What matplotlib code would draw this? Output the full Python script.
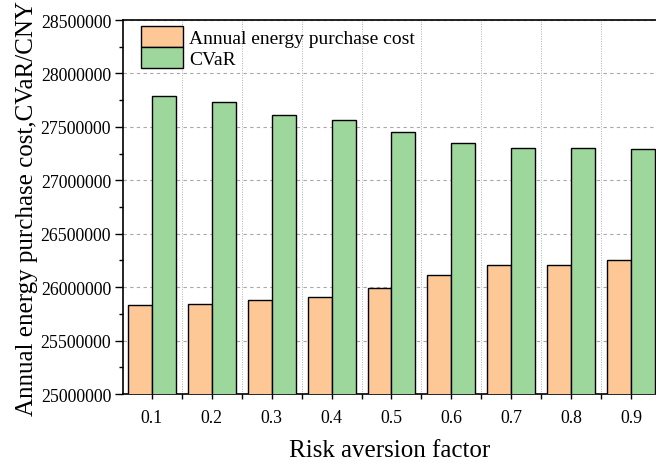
import numpy as np
import matplotlib.pyplot as plt
from matplotlib.ticker import MultipleLocator

############################
risk_factors = [0.1, 0.2, 0.3, 0.4, 0.5, 0.6, 0.7, 0.8, 0.9]
tick_labels = ['0.1', '0.2', '0.3', '0.4', '0.5', '0.6', '0.7', '0.8', '0.9']
purchase_cost = [25830000, 25840000, 25880000, 25910000, 25995000, 26110000, 26205000, 26205000, 26250000]
cvar = [27790000, 27730000, 27610000, 27560000, 27450000, 27350000, 27300000, 27300000, 27290000]
############################

plt.rcParams['font.family'] = ['Liberation Serif', 'DejaVu Serif']

fig = plt.figure(figsize=(6.56, 4.64), dpi=100)
ax = fig.add_axes([0.1875, 0.1487, 0.8125, 0.806])

x = np.array(risk_factors)
w = 0.04
ax.bar(x - w / 2, purchase_cost, width=w, color='#fdc896', edgecolor='black', linewidth=1.0,
       label='Annual energy purchase cost', zorder=3)
ax.bar(x + w / 2, cvar, width=w, color='#9dd79b', edgecolor='black', linewidth=1.0,
       label='CVaR', zorder=3)

ax.set_ylim(25000000, 28500000)
ax.set_xlim(0.0517, 0.9417)
ax.set_xticks(x)
ax.set_xticklabels(tick_labels)
ax.set_xticks(x[:-1] + 0.05, minor=True)
ax.yaxis.set_major_locator(MultipleLocator(500000))
ax.yaxis.set_minor_locator(MultipleLocator(250000))
ax.ticklabel_format(axis='y', style='plain', useOffset=False)

ax.tick_params(axis='both', which='major', labelsize=12.8, direction='out', width=1.0)
ax.tick_params(axis='y', which='major', length=5.5, pad=3)
ax.tick_params(axis='y', which='minor', length=3, width=1.0)
ax.tick_params(axis='x', which='major', length=3.5, pad=7)
ax.tick_params(axis='x', which='minor', length=3.5, width=1.0)

ax.grid(axis='y', which='major', linestyle=(0, (3, 3)), color='#a8a8a8', linewidth=0.8, zorder=0)
ax.grid(axis='x', which='minor', linestyle=(0, (1, 1.5)), color='#b0b0b0', linewidth=0.7, zorder=0)

for s in ['left', 'top', 'bottom']:
    ax.spines[s].set_linewidth(1.2)
ax.spines['right'].set_visible(False)

ax.set_xlabel('Risk aversion factor', fontsize=18, labelpad=10)
ax.set_ylabel('Annual energy purchase cost,CVaR/CNY', fontsize=18, labelpad=2)

ax.legend(loc='upper left', frameon=False, fontsize=14, handlelength=2.2, handleheight=1.3,
          borderaxespad=0.1, labelspacing=0.0, handletextpad=0.3, bbox_to_anchor=(0.015, 1.01))

fig.savefig('out.png', dpi=100)
